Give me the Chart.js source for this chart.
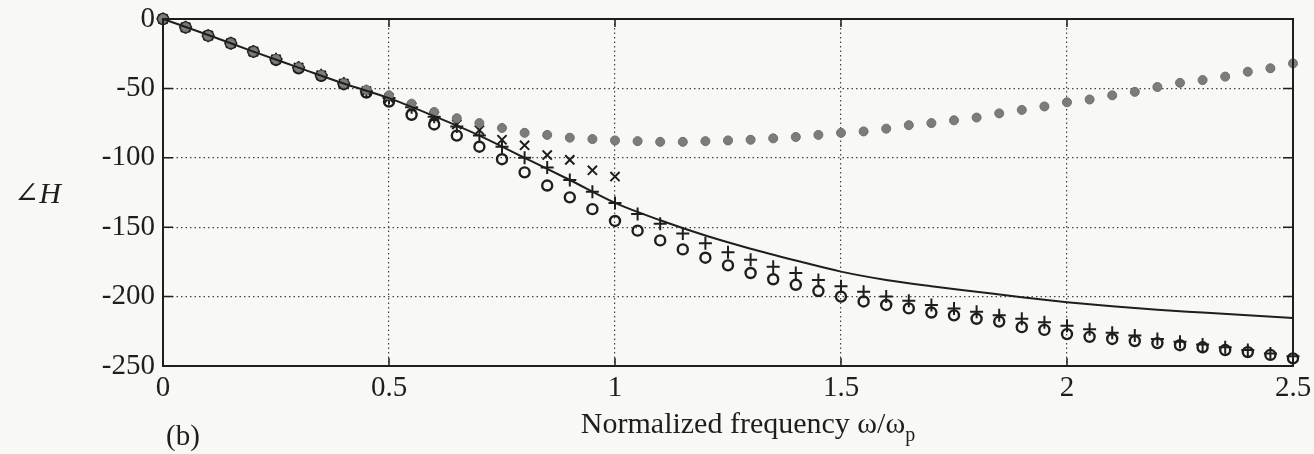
<!DOCTYPE html>
<html>
<head>
<meta charset="utf-8">
<script src="https://cdn.jsdelivr.net/npm/chart.js@4/dist/chart.umd.min.js"></script>
<style>
  html, body { margin: 0; padding: 0; background: #f8f8f4; }
  #wrap { width: 1314px; height: 454px; position: relative; }
</style>
</head>
<body>
<div id="wrap"><canvas id="phaseChart"></canvas></div>
<script>
// sample frequencies (w/wp) for the marker series
const freq = [0, 0.05, 0.1, 0.15, 0.2, 0.25, 0.3, 0.35, 0.4, 0.45, 0.5, 0.55, 0.6, 0.65, 0.7, 0.75, 0.8, 0.85, 0.9, 0.95,
  1.0, 1.05, 1.1, 1.15, 1.2, 1.25, 1.3, 1.35, 1.4, 1.45, 1.5, 1.55, 1.6, 1.65, 1.7, 1.75, 1.8, 1.85, 1.9, 1.95,
  2.0, 2.05, 2.1, 2.15, 2.2, 2.25, 2.3, 2.35, 2.4, 2.45, 2.5];

// '*' series
const starVals = [0, -6, -12, -17.5, -23.5, -29, -35, -40.5, -46.5, -51, -55, -61, -67, -71.5, -75, -78.5, -82, -83.5, -85.5, -86.5,
  -87.5, -88, -88.5, -88.5, -88, -87.5, -87, -86, -85, -83.5, -82, -81, -79, -76.5, -75, -73, -71, -68, -65.5, -63,
  -60, -58, -55, -52.5, -49, -46, -44, -41.5, -38, -35.5, -32];

// 'x' series (stops at 1.0)
const crossVals = [0, -6, -12, -17.5, -23.5, -29, -35, -40.5, -46.5, -52, -57, -63.5, -70, -76, -80, -87, -91, -98, -101.5, -109, -113.5];

// '+' series
const plusVals = [0, -6, -12, -17.5, -23.5, -29, -35, -40.5, -46.5, -52, -57, -63.5, -70.5, -77.5, -84, -92, -100, -107, -116, -124.5,
  -132.5, -140.5, -147.5, -154.5, -161.5, -168, -173.5, -178.5, -183, -188, -192.5, -196.5, -200, -203, -206, -208.5, -211, -213.5, -216, -218.5,
  -221, -223.5, -226, -228, -230.5, -232.5, -234.5, -236.5, -238.5, -241, -243];

// 'o' series
const circleVals = [0, -6, -12, -17.5, -23.5, -29.5, -35.5, -41, -47, -53, -59.5, -69, -76, -84, -92, -101, -110.5, -120, -128.5, -137,
  -145.5, -152.5, -159.5, -166, -172, -177.5, -183, -187.5, -191.5, -196, -200, -203.5, -206, -208.5, -211.5, -213.5, -216, -218, -222, -224,
  -227, -229, -230.5, -232, -233.5, -235, -236.5, -238.5, -240, -242, -244.5];

// solid reference curve
const lineFreq = [0, 0.1, 0.2, 0.3, 0.4, 0.5, 0.6, 0.7, 0.8, 0.9, 1.0, 1.1, 1.2, 1.3, 1.4, 1.5, 1.6, 1.7, 1.8, 1.9, 2.0, 2.1, 2.2, 2.3, 2.4, 2.5];
const lineVals = [0, -11.5, -23.5, -35, -46.5, -57, -70, -84, -100, -116, -132.5, -145, -156, -165.5, -174, -182, -188, -192.5, -196.5, -200.5,
  -204, -207, -209.5, -211.5, -213.5, -215.5];

const xTicks = [0, 0.5, 1, 1.5, 2, 2.5];
const yTicks = [0, -50, -100, -150, -200, -250];

const pts = (xs, ys) => ys.map((y, i) => ({ x: xs[i], y: y }));

const SERIF = '"Liberation Serif", "DejaVu Serif", serif';
const INK = '#1e1e1e';

const frameAndText = {
  id: 'frameAndText',
  afterDraw(chart) {
    const { ctx, chartArea: a, scales } = chart;
    ctx.save();
    ctx.strokeStyle = INK;
    ctx.lineWidth = 2;
    ctx.strokeRect(a.left, a.top, a.right - a.left, a.bottom - a.top);

    // small inward tick marks, matlab style
    ctx.lineWidth = 1.5;
    ctx.beginPath();
    xTicks.forEach(v => {
      const px = scales.x.getPixelForValue(v);
      ctx.moveTo(px, a.bottom); ctx.lineTo(px, a.bottom - 8);
      ctx.moveTo(px, a.top); ctx.lineTo(px, a.top + 8);
    });
    yTicks.forEach(v => {
      const py = scales.y.getPixelForValue(v);
      ctx.moveTo(a.left, py); ctx.lineTo(a.left + 10, py);
      ctx.moveTo(a.right, py); ctx.lineTo(a.right - 10, py);
    });
    ctx.stroke();

    ctx.fillStyle = INK;
    ctx.textBaseline = 'alphabetic';
    // y label
    ctx.font = 'italic 30px ' + SERIF;
    ctx.textAlign = 'left';
    ctx.fillText('\u2220H', 14, 203);
    // panel tag
    ctx.font = '29px ' + SERIF;
    ctx.fillText('(b)', 166, 445);
    // x title with subscript
    ctx.font = '30px ' + SERIF;
    const main = 'Normalized frequency \u03c9/\u03c9';
    const w = ctx.measureText(main).width;
    ctx.font = '20px ' + SERIF;
    const ws = ctx.measureText('p').width;
    const x0 = 748 - (w + ws) / 2;
    ctx.font = '30px ' + SERIF;
    ctx.fillText(main, x0, 433);
    ctx.font = '20px ' + SERIF;
    ctx.fillText('p', x0 + w, 441);
    ctx.restore();
  }
};

const gridStyle = {
  color: '#444',
  lineWidth: 1.2,
  drawTicks: false
};

new Chart(document.getElementById('phaseChart'), {
  type: 'scatter',
  data: {
    datasets: [
      {
        label: 'curve',
        data: pts(lineFreq, lineVals),
        showLine: true,
        borderColor: INK,
        borderWidth: 2,
        pointRadius: 0,
        cubicInterpolationMode: 'monotone'
      },
      {
        label: 'star',
        data: pts(freq, starVals),
        pointStyle: 'circle',
        pointRadius: 4.5,
        backgroundColor: '#7c7c7c',
        borderColor: '#6e6e6e',
        borderWidth: 1
      },
      {
        label: 'x',
        data: pts(freq, crossVals),
        pointStyle: 'crossRot',
        pointRadius: 6.5,
        borderColor: INK,
        borderWidth: 2
      },
      {
        label: 'plus',
        data: pts(freq, plusVals),
        pointStyle: 'cross',
        pointRadius: 6.5,
        borderColor: INK,
        borderWidth: 2
      },
      {
        label: 'o',
        data: pts(freq, circleVals),
        pointStyle: 'circle',
        pointRadius: 5,
        backgroundColor: 'rgba(0,0,0,0)',
        borderColor: INK,
        borderWidth: 2.4
      }
    ]
  },
  options: {
    responsive: true,
    maintainAspectRatio: false,
    animation: false,
    clip: false,
    layout: { padding: { left: 0, right: 21, top: 19, bottom: 0 } },
    plugins: {
      legend: { display: false },
      tooltip: { enabled: false }
    },
    scales: {
      x: {
        type: 'linear',
        min: 0,
        max: 2.5,
        border: { display: false, dash: [1.5, 3] },
        grid: { ...gridStyle },
        afterBuildTicks: (s) => { s.ticks = xTicks.map(v => ({ value: v })); },
        afterFit: (s) => { s.height = 88; s.paddingLeft = 0; s.paddingRight = 0; },
        ticks: {
          color: INK,
          padding: 5,
          font: { family: SERIF, size: 29 },
          callback: (v) => String(v)
        }
      },
      y: {
        min: -250,
        max: 0,
        border: { display: false, dash: [1.5, 3] },
        grid: { ...gridStyle },
        afterBuildTicks: (s) => { s.ticks = yTicks.map(v => ({ value: v })); },
        afterFit: (s) => { s.width = 163; s.paddingTop = 0; s.paddingBottom = 0; },
        ticks: {
          color: INK,
          padding: 8,
          font: { family: SERIF, size: 29 },
          callback: (v) => String(v)
        }
      }
    }
  },
  plugins: [frameAndText]
});
</script>
</body>
</html>
